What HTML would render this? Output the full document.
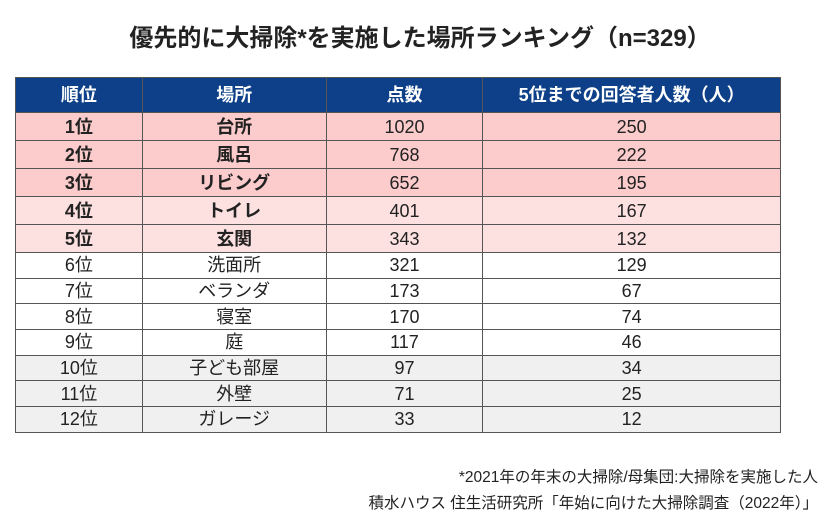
<!DOCTYPE html>
<html><head><meta charset="utf-8"><style>
body{margin:0;width:840px;height:528px;background:#fff;font-family:"Liberation Sans","Noto Sans CJK JP",sans-serif;color:#222;position:relative;overflow:hidden}
#title{position:absolute;top:18px;left:0;width:840px;text-align:center;font-size:24px;font-weight:bold;color:#222}
table{position:absolute;left:15px;top:77px;border-collapse:collapse;width:766px}
td,th{border:1px solid #555;text-align:center;padding:0;font-size:18px;line-height:20px}
th{background:#0d4088;color:#fff;height:34px;font-weight:bold}
tr.top td{height:27px;font-weight:bold}
tr.r1 td{background:#fccbcb}
tr.r2 td{background:#fde0e0}
tr.rest td{height:24.7px}
tr.gray td{background:#f0f0f0}
tr td:nth-child(3),tr td:nth-child(4){font-weight:normal}
.note{position:absolute;right:22px;font-size:15.5px;color:#222}
</style></head><body>
<div id="title">優先的に大掃除*を実施した場所ランキング（n=329）</div>
<table>
<colgroup><col style="width:127px"><col style="width:184px"><col style="width:157px"><col style="width:298px"></colgroup>
<thead><tr><th>順位</th><th>場所</th><th>点数</th><th>5位までの回答者人数（人）</th></tr></thead>
<tbody id="tb"></tbody>
</table>
<div class="note" style="top:465px">*2021年の年末の大掃除/母集団:大掃除を実施した人</div>
<div class="note" style="top:491px">積水ハウス 住生活研究所「年始に向けた大掃除調査（2022年）」</div>
<script>
const ranks=["1位","2位","3位","4位","5位","6位","7位","8位","9位","10位","11位","12位"];
const places=["台所","風呂","リビング","トイレ","玄関","洗面所","ベランダ","寝室","庭","子ども部屋","外壁","ガレージ"];
const scores=[1020,768,652,401,343,321,173,170,117,97,71,33];
const counts=[250,222,195,167,132,129,67,74,46,34,25,12];
const tb=document.getElementById('tb');
ranks.forEach((r,i)=>{
 const tr=document.createElement('tr');
 
 
 let cls=i<3?'top r1':i<5?'top r2':i>=9?'rest gray':'rest';
 tr.className=cls;
 [r,places[i],scores[i],counts[i]].forEach(v=>{const td=document.createElement('td');td.textContent=v;tr.appendChild(td);});
 tb.appendChild(tr);
});
</script>
</body></html>
